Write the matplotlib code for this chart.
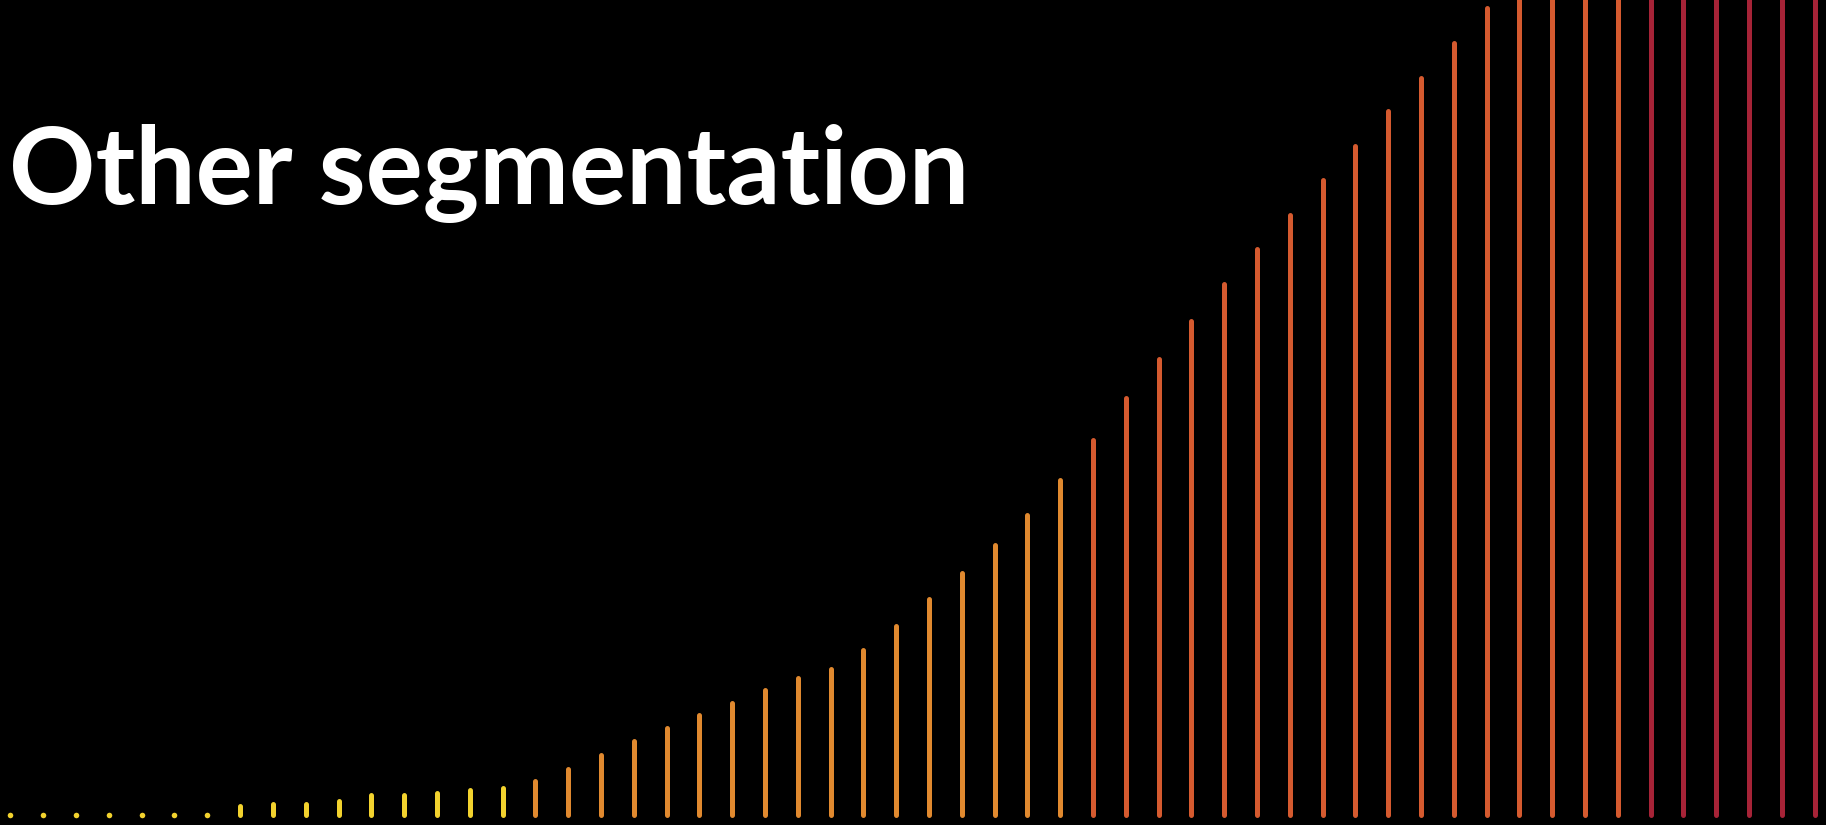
import matplotlib
matplotlib.use("Agg")
import matplotlib.pyplot as plt

# Segment sizes, smallest to largest
values = [0, 0, 0, 0, 0, 0, 0, 9, 11, 11, 14, 20, 20, 22, 25, 27,
          34, 46, 60, 74, 87, 100, 112, 125, 137, 146, 165, 189, 216, 242,
          270, 300, 335, 375, 417, 456, 494, 531, 566, 600, 635, 669, 704,
          737, 772, 807, 842, 877, 912, 947, 982, 1017, 1052, 1087, 1122, 1157]

# Colour group per segment
groups = ["low"] * 16 + ["mid"] * 17 + ["high"] * 17 + ["top"] * 6
palette = {"low": "#F2D22E", "mid": "#E0892F", "high": "#D55A2F", "top": "#A62337"}

title = "Other segmentation"

fig = plt.figure(figsize=(18.26, 8.25), dpi=100, facecolor="black")
ax = fig.add_axes([0, 0, 1, 1], facecolor="black")

lw = 3.6
for i, (v, g) in enumerate(zip(values, groups)):
    c = palette[g]
    ax.plot([i, i], [0, v], color=c, lw=lw, solid_capstyle="round", zorder=2)
    if v == 0:
        # empty segments still show as a round dot
        ax.plot([i], [0], marker="o", ms=lw + 0.4, mew=0, color=c, zorder=2)

ax.set_xlim(-0.32, 55.35)
ax.set_ylim(-10, 815)
ax.axis("off")

fig.text(9 / 1826, (825 - 204) / 825, title, color="white",
         fontsize=77, fontweight="bold", family=["Lato", "DejaVu Sans"],
         ha="left", va="baseline")

fig.savefig("out.png", dpi=100, facecolor="black")
